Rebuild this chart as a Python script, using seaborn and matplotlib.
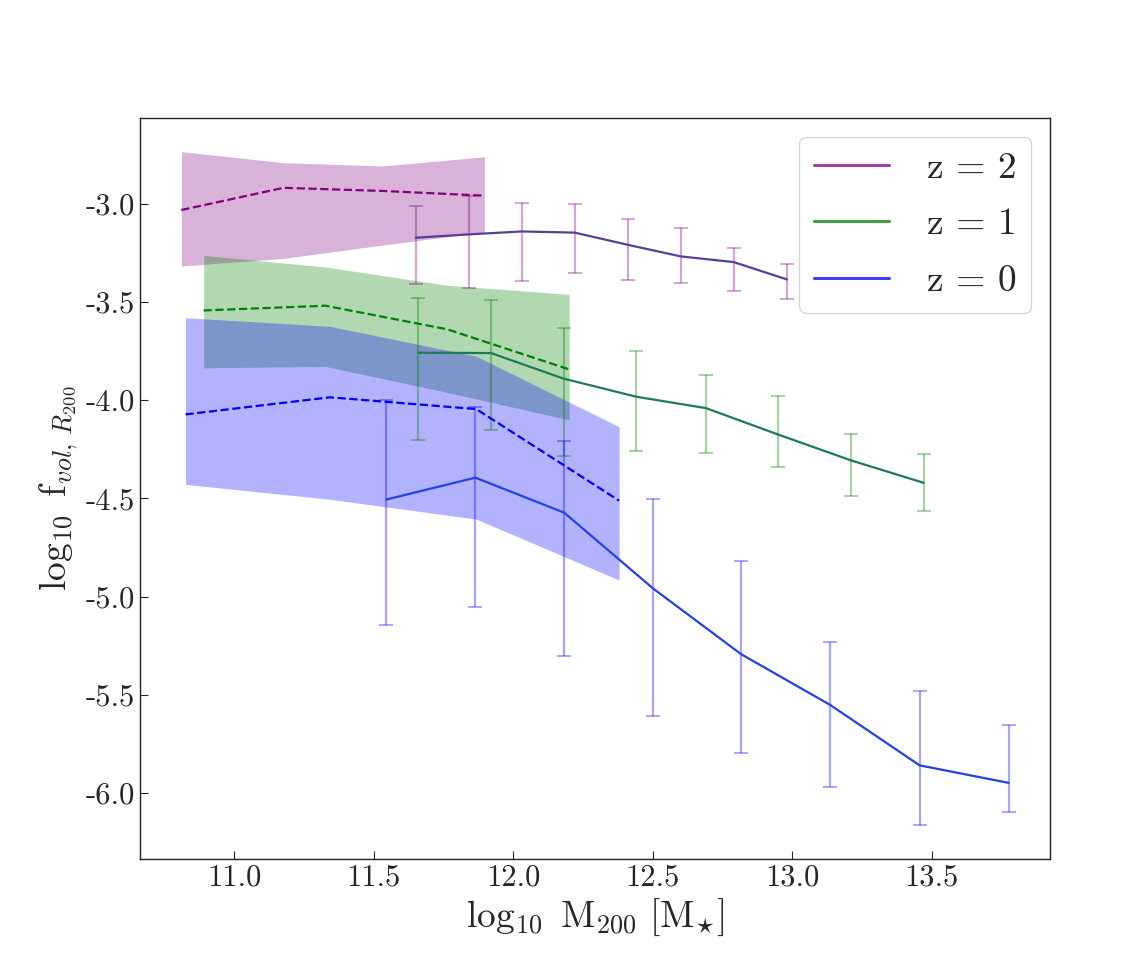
import numpy as np
import pandas as pd
import matplotlib
matplotlib.use("Agg")
import matplotlib.pyplot as plt
from matplotlib.lines import Line2D
import seaborn as sns

# shaded bands + dashed median (one set per redshift)
x_band2 = [10.81, 11.176, 11.533, 11.896]
mid_band2 = [-3.032, -2.919, -2.935, -2.959]
top_band2 = [-2.735, -2.791, -2.808, -2.761]
bot_band2 = [-3.317, -3.278, -3.21, -3.144]

x_band1 = [10.89, 11.327, 11.763, 12.2]
mid_band1 = [-3.543, -3.519, -3.639, -3.843]
top_band1 = [-3.263, -3.322, -3.415, -3.461]
bot_band1 = [-3.835, -3.828, -3.96, -4.10]

x_band0 = [10.825, 11.343, 11.867, 12.379]
mid_band0 = [-4.072, -3.985, -4.045, -4.511]
top_band0 = [-3.58, -3.624, -3.776, -4.135]
bot_band0 = [-4.428, -4.504, -4.605, -4.915]

# solid lines with error bars
x_z2 = [11.65, 11.84, 12.03, 12.22, 12.41, 12.60, 12.79, 12.98]
y_z2 = [-3.173, -3.156, -3.141, -3.147, -3.209, -3.268, -3.297, -3.385]
hi_z2 = [-3.013, -2.962, -2.995, -3.0, -3.076, -3.125, -3.224, -3.305]
lo_z2 = [-3.407, -3.429, -3.393, -3.353, -3.39, -3.402, -3.444, -3.485]

x_z1 = [11.66, 11.92, 12.18, 12.44, 12.69, 12.95, 13.21, 13.47]
y_z1 = [-3.758, -3.76, -3.89, -3.982, -4.04, -4.175, -4.306, -4.42]
hi_z1 = [-3.478, -3.492, -3.631, -3.75, -3.873, -3.98, -4.174, -4.272]
lo_z1 = [-4.201, -4.15, -4.284, -4.26, -4.269, -4.34, -4.489, -4.562]

x_z0 = [11.545, 11.864, 12.182, 12.50, 12.816, 13.136, 13.456, 13.775]
y_z0 = [-4.505, -4.394, -4.572, -4.957, -5.292, -5.551, -5.858, -5.947]
hi_z0 = [-3.999, -4.033, -4.208, -4.504, -4.817, -5.229, -5.478, -5.651]
lo_z0 = [-5.144, -5.052, -5.303, -5.609, -5.797, -5.968, -6.163, -6.094]

sns.set_style("ticks")
plt.rcParams['font.family'] = ['cmr10', 'DejaVu Serif']
plt.rcParams['mathtext.fontset'] = 'cm'
plt.rcParams['axes.unicode_minus'] = False
plt.rcParams['axes.formatter.use_mathtext'] = False
plt.rcParams['xtick.direction'] = 'in'
plt.rcParams['ytick.direction'] = 'in'

fig = plt.figure(figsize=(11.36, 9.75), dpi=100)
ax = fig.add_axes([0.1232, 0.119, 0.8011, 0.760])

sets = [
    (x_band2, mid_band2, top_band2, bot_band2, x_z2, y_z2, hi_z2, lo_z2, 'purple', '#5b3c9e'),
    (x_band1, mid_band1, top_band1, bot_band1, x_z1, y_z1, hi_z1, lo_z1, 'green', '#1f7a58'),
    (x_band0, mid_band0, top_band0, bot_band0, x_z0, y_z0, hi_z0, lo_z0, 'blue', '#2442e0'),
]

for xb, mb, tb, bb, xs, ys, hs, ls, c, cl in sets:
    ax.fill_between(xb, bb, tb, color=c, alpha=0.3, linewidth=0)
    sns.lineplot(x=xb, y=mb, ax=ax, color=c, linestyle='--', linewidth=1.6,
                 errorbar=None, sort=False)
    ys_a = np.array(ys)
    yerr = [ys_a - np.array(ls), np.array(hs) - ys_a]
    ax.errorbar(xs, ys, yerr=yerr, fmt='none', ecolor=c, alpha=0.35,
                elinewidth=1.6, capsize=5, capthick=1.4)
    sns.lineplot(x=xs, y=ys, ax=ax, color=cl, linewidth=1.6,
                 errorbar=None, sort=False)

handles = [Line2D([], [], color='purple', alpha=0.75, lw=2.2),
           Line2D([], [], color='green', alpha=0.75, lw=2.2),
           Line2D([], [], color='blue', alpha=0.75, lw=2.2)]
ax.legend(handles, ['z = 2', 'z = 1', 'z = 0'], loc='upper right', fontsize=27,
          handlelength=2.0, handletextpad=1.0, labelspacing=0.62)

ax.tick_params(axis='both', labelsize=22, direction='in', length=6,
               top=False, right=False)
for s in ax.spines.values():
    s.set_color('#222222')
    s.set_linewidth(1.0)

ax.set_xlabel(r'$\log_{10}\ \mathrm{M}_{200}\ [\mathrm{M}_{\star}]$', fontsize=27)
ax.set_ylabel(r'$\log_{10}\ \mathrm{f}_{vol,\,R_{200}}$', fontsize=27)

fig.savefig('out.png', dpi=100)
